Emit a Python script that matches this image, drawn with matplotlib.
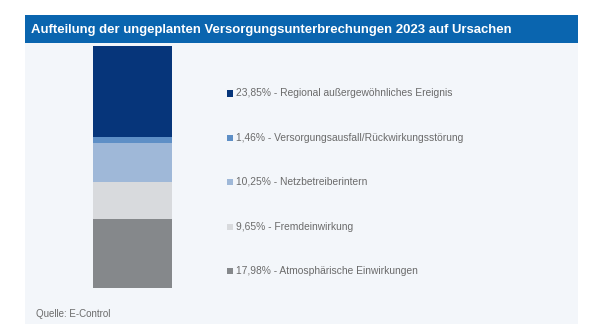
import matplotlib.pyplot as plt
from matplotlib.patches import Rectangle

plt.rcParams['font.family'] = ['Liberation Sans', 'DejaVu Sans']

# Anteile (Prozent), von unten nach oben gestapelt
ursachen = ['Atmosphärische Einwirkungen', 'Fremdeinwirkung', 'Netzbetreiberintern',
            'Versorgungsausfall/Rückwirkungsstörung', 'Regional außergewöhnliches Ereignis']
anteile = [17.98, 9.65, 10.25, 1.46, 23.85]
farben = ['#85888b', '#d8dadd', '#9fb8d8', '#5e8fc6', '#06357a']
labels = ['17,98%', '9,65%', '10,25%', '1,46%', '23,85%']

W, H = 605, 334
fig = plt.figure(figsize=(W / 100, H / 100), dpi=100)
fig.patch.set_facecolor('white')

def fx(px):
    return px / W

def fy(py):
    return 1 - py / H

# Hintergrund-Panel und Titelbalken (hinter dem Balken)
fig.patches.append(Rectangle((fx(25), fy(324)), fx(578) - fx(25), fy(43) - fy(324),
                             transform=fig.transFigure, facecolor='#f3f6fa', edgecolor='none',
                             zorder=-2))
fig.patches.append(Rectangle((fx(25), fy(43)), fx(578) - fx(25), fy(15) - fy(43),
                             transform=fig.transFigure, facecolor='#0a65af', edgecolor='none',
                             zorder=-1))
fig.text(fx(31), fy(29.5), 'Aufteilung der ungeplanten Versorgungsunterbrechungen 2023 auf Ursachen',
         color='white', fontsize=9.45, fontweight='bold', va='center', ha='left')

# gestapelter Balken
ax = fig.add_axes([fx(93), fy(288), fx(172) - fx(93), fy(46) - fy(288)])
unten = 0
for wert, farbe in zip(anteile, farben):
    ax.bar(0, wert, bottom=unten, width=1, color=farbe, edgecolor='none')
    unten += wert
ax.set_xlim(-0.5, 0.5)
ax.set_ylim(0, sum(anteile))
ax.axis('off')

# Legende rechts (von oben nach unten)
legend_y = [93.5, 138, 182, 226.5, 271]
for i, yy in enumerate(legend_y):
    k = len(anteile) - 1 - i
    fig.patches.append(Rectangle((fx(227), fy(yy + 3)), fx(6), fy(0) - fy(6),
                                 transform=fig.transFigure, facecolor=farben[k], edgecolor='none'))
    fig.text(fx(236), fy(yy), labels[k] + ' - ' + ursachen[k], color='#6b6b6b',
             fontsize=7.4, va='center', ha='left')

fig.text(fx(36), fy(314), 'Quelle: E-Control', color='#6b6b6b', fontsize=7, va='center', ha='left')

fig.savefig('out.png', dpi=100)
